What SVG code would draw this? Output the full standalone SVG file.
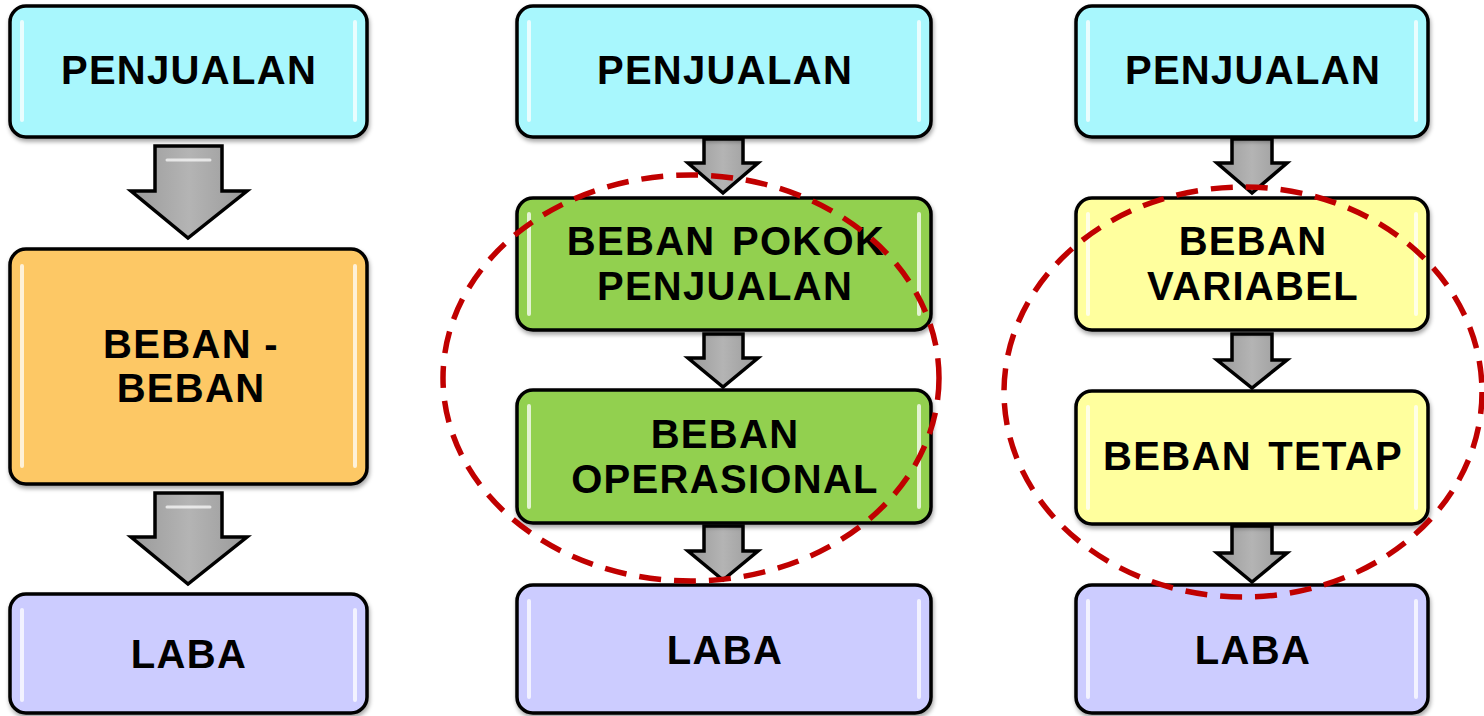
<svg xmlns="http://www.w3.org/2000/svg" width="1484" height="716" viewBox="0 0 1484 716">
<defs>
<filter id="sh" x="-10%" y="-10%" width="120%" height="130%"><feDropShadow dx="1" dy="3" stdDeviation="2" flood-color="#000" flood-opacity="0.35"/></filter>
<linearGradient id="ag" x1="0" y1="0" x2="1" y2="0"><stop offset="0" stop-color="#9a9a9a"/><stop offset="0.5" stop-color="#b4b4b4"/><stop offset="1" stop-color="#9a9a9a"/></linearGradient>
</defs>
<style>
.box{stroke:#000;stroke-width:3.5;filter:url(#sh)}
.hl{stroke:#fff;stroke-width:4;stroke-linecap:round;opacity:0.75}
.t{font-family:"Liberation Sans",Arial,sans-serif;font-weight:bold;font-size:40px;letter-spacing:1.3px;fill:#000;text-anchor:middle}
.arr{fill:url(#ag);stroke:#000;stroke-width:3.5;stroke-linejoin:miter}
.ahl{fill:none;stroke:#fff;stroke-width:3;opacity:0.7;stroke-linecap:round}
.ell{fill:none;stroke:#c00000;stroke-width:5.5;stroke-dasharray:22 13}
</style>
<g id="connectors">
<path class="arr" d="M155,146 H222 V191 H247 L188,238 L131,191 H155 Z"/>
<path class="ahl" d="M167,160 H210"/>
<path class="arr" d="M155,493 H222 V537 H247 L188,584 L131,537 H155 Z"/>
<path class="ahl" d="M167,507 H210"/>
<path class="arr" d="M704,139 H743 V163 H758 L723,193 L688,163 H704 Z"/>
<path class="arr" d="M704,334 H743 V358 H758 L723,387 L688,358 H704 Z"/>
<path class="arr" d="M704,526 H743 V551 H758 L723,580 L688,551 H704 Z"/>
<path class="arr" d="M1232,139 H1272 V163 H1287 L1252,193 L1217,163 H1232 Z"/>
<path class="arr" d="M1232,334 H1272 V360 H1287 L1252,388 L1217,360 H1232 Z"/>
<path class="arr" d="M1232,526 H1272 V553 H1287 L1252,582 L1217,553 H1232 Z"/>
</g>
<g id="n1">
<rect class="box" x="10" y="6" width="357" height="131" rx="16" fill="#a8f7fd"/>
<path class="hl" d="M22,22 V120 M355,22 V120"/>
<text class="t" x="189" y="84">PENJUALAN</text>
</g>
<g id="n2">
<rect class="box" x="10" y="249" width="357" height="235" rx="16" fill="#fdc865"/>
<path class="hl" d="M22,266 V466 M355,266 V466"/>
<text class="t" x="191" y="358">BEBAN -</text>
<text class="t" x="191" y="402">BEBAN</text>
</g>
<g id="n3">
<rect class="box" x="10" y="594" width="357" height="119" rx="16" fill="#ccccff"/>
<path class="hl" d="M22,610 V700 M355,610 V700"/>
<text class="t" x="189" y="668">LABA</text>
</g>
<g id="n4">
<rect class="box" x="517" y="6" width="414" height="131" rx="16" fill="#a8f7fd"/>
<path class="hl" d="M529,22 V120 M919,22 V120"/>
<text class="t" x="725" y="84">PENJUALAN</text>
</g>
<g id="n5">
<rect class="box" x="517" y="198" width="414" height="132" rx="16" fill="#92d050"/>
<path class="hl" d="M529,214 V314 M919,214 V314"/>
<text class="t" x="726" y="255" word-spacing="4">BEBAN POKOK</text>
<text class="t" x="725" y="300">PENJUALAN</text>
</g>
<g id="n6">
<rect class="box" x="517" y="390" width="414" height="133" rx="16" fill="#92d050"/>
<path class="hl" d="M529,406 V507 M919,406 V507"/>
<text class="t" x="725" y="448">BEBAN</text>
<text class="t" x="725" y="493">OPERASIONAL</text>
</g>
<g id="n7">
<rect class="box" x="517" y="585" width="414" height="128" rx="16" fill="#ccccff"/>
<path class="hl" d="M529,601 V697 M919,601 V697"/>
<text class="t" x="725" y="664">LABA</text>
</g>
<g id="n8">
<rect class="box" x="1076" y="6" width="352" height="131" rx="16" fill="#a8f7fd"/>
<path class="hl" d="M1088,22 V120 M1416,22 V120"/>
<text class="t" x="1253" y="84">PENJUALAN</text>
</g>
<g id="n9">
<rect class="box" x="1076" y="198" width="352" height="132" rx="16" fill="#ffff9e"/>
<path class="hl" d="M1088,214 V314 M1416,214 V314"/>
<text class="t" x="1253" y="255">BEBAN</text>
<text class="t" x="1253" y="300">VARIABEL</text>
</g>
<g id="n10">
<rect class="box" x="1076" y="391" width="352" height="133" rx="16" fill="#ffff9e"/>
<path class="hl" d="M1088,407 V508 M1416,407 V508"/>
<text class="t" x="1253" y="470" word-spacing="4">BEBAN TETAP</text>
</g>
<g id="n11">
<rect class="box" x="1076" y="585" width="352" height="128" rx="16" fill="#ccccff"/>
<path class="hl" d="M1088,601 V697 M1416,601 V697"/>
<text class="t" x="1253" y="664">LABA</text>
</g>
<g id="groups">
<ellipse class="ell" cx="691" cy="378" rx="248" ry="203"/>
<ellipse class="ell" cx="1243" cy="392" rx="239" ry="205"/>
</g>
</svg>
